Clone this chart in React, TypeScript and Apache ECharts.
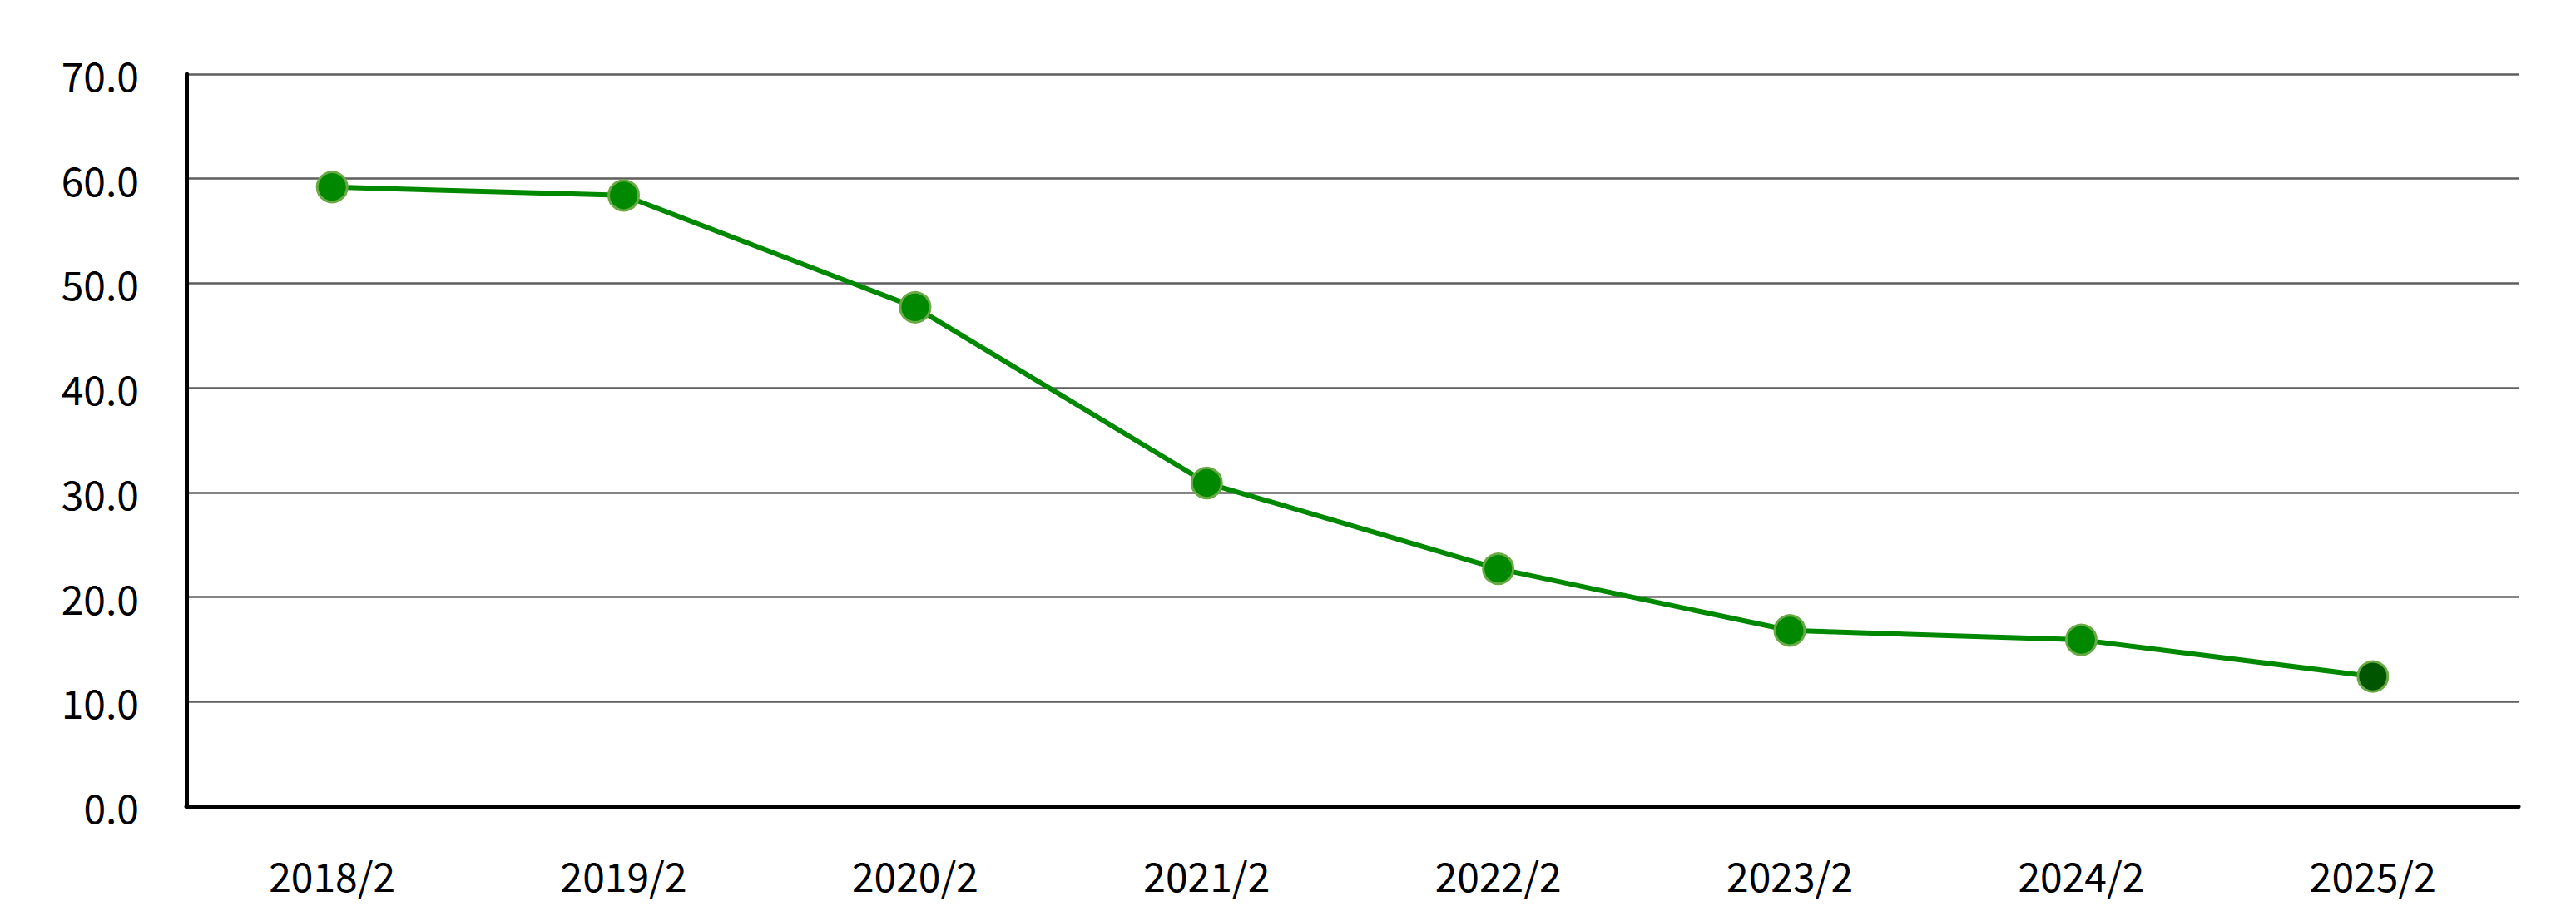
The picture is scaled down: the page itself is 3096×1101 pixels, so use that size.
import React, { useEffect, useRef } from "react";
import * as echarts from "echarts";

const categories = ["2018/2", "2019/2", "2020/2", "2021/2", "2022/2", "2023/2", "2024/2", "2025/2"];
const values = [59.2, 58.4, 47.7, 30.9, 22.7, 16.8, 15.9, 12.4];
const yTicks = { min: 0, max: 70, interval: 10 };

const FONT = "'Noto Sans CJK JP', 'Noto Sans', sans-serif";

export default function App() {
  const ref = useRef<HTMLDivElement>(null);
  useEffect(() => {
    if (!ref.current) return;
    const chart = echarts.init(ref.current, null, { renderer: "svg" });
    const lastIdx = values.length - 1;
    chart.setOption({
      animation: false,
      backgroundColor: "#ffffff",
      grid: {
        left: 224,
        right: 69,
        top: 89,
        bottom: 132,
        containLabel: false,
        outerBoundsMode: "none",
      },
      xAxis: {
        type: "category",
        data: categories,
        boundaryGap: true,
        axisLine: { show: true, lineStyle: { color: "#000000", width: 5 } },
        axisTick: { show: false },
        axisLabel: {
          color: "#000000",
          fontSize: 48,
          fontFamily: FONT,
          margin: 58,
        },
        splitLine: { show: false },
      },
      yAxis: {
        type: "value",
        min: yTicks.min,
        max: yTicks.max,
        interval: yTicks.interval,
        axisLine: { show: true, lineStyle: { color: "#000000", width: 5 } },
        axisTick: { show: false },
        axisLabel: {
          color: "#000000",
          fontSize: 48,
          fontFamily: FONT,
          margin: 57,
          formatter: (v: number) => v.toFixed(1),
        },
        splitLine: { show: true, lineStyle: { color: "#5e5e5e", width: 2.5 } },
      },
      series: [
        {
          type: "line",
          data: values.map((v, i) => ({
            value: v,
            itemStyle: {
              color: i === lastIdx ? "#005500" : "#008800",
              borderColor: "#6aaa44",
              borderWidth: 3,
            },
          })),
          symbol: "circle",
          symbolSize: 36,
          showSymbol: true,
          lineStyle: { color: "#008800", width: 6 },
          itemStyle: { color: "#008800", borderColor: "#6aaa44", borderWidth: 3 },
          z: 3,
        },
      ],
    });
    return () => chart.dispose();
  }, []);
  return (
    <div
      ref={ref}
      style={{ position: "fixed", left: 0, top: 0, width: 3096, height: 1101, background: "#fff" }}
    />
  );
}
